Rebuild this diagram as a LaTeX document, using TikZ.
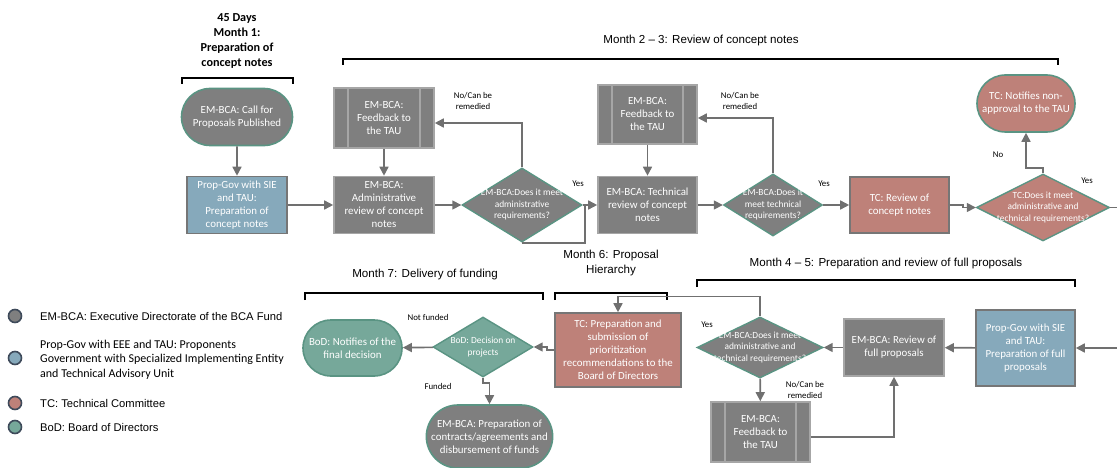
\documentclass[tikz,border=0pt]{standalone}
\usepackage{fontspec}
\setmainfont{Carlito}
\newfontfamily\ttlfont{Liberation Sans}
\usetikzlibrary{shapes.geometric,shapes.misc,arrows.meta}

\definecolor{emgray}{HTML}{7F7F7F}
\definecolor{boxline}{HTML}{A6A6A6}
\definecolor{darkline}{HTML}{767676}
\definecolor{tealline}{HTML}{5A9483}
\definecolor{propblue}{HTML}{86A9BB}
\definecolor{tcred}{HTML}{BE8179}
\definecolor{bodteal}{HTML}{76A89A}
\definecolor{arrowgray}{HTML}{707070}
\definecolor{legline}{HTML}{3E4A5A}

\newcommand{\nodefont}{\fontsize{10.9}{13}\selectfont}
\newcommand{\decfont}{\fontsize{9.4}{11.5}\selectfont}
\newcommand{\lblfont}{\fontsize{8.8}{11}\selectfont}

\begin{document}
\begin{tikzpicture}[x=1pt,y=-1pt]
\tikzstyle{every node}+=[inner sep=0pt, align=center]
\tikzstyle{procbox}=[rectangle, draw=boxline, line width=1.6pt, text=white, font=\nodefont, minimum width=100, minimum height=57]
\tikzstyle{fbbox}=[procbox, fill=emgray, minimum height=60, path picture={
  \draw [boxline, line width=1.6pt] ([xshift=14pt]path picture bounding box.north west) -- ([xshift=14pt]path picture bounding box.south west);
  \draw [boxline, line width=1.6pt] ([xshift=-14pt]path picture bounding box.north east) -- ([xshift=-14pt]path picture bounding box.south east);}]
\tikzstyle{stadium}=[rounded rectangle, draw=tealline, line width=1.6pt, text=white, font=\nodefont, minimum width=111, minimum height=57]
\tikzstyle{dec}=[diamond, draw=tealline, line width=1.4pt, text=white, font=\decfont, inner xsep=-30pt, inner ysep=-15pt]
\tikzstyle{conn}=[draw=arrowgray, line width=1.6pt, -{Triangle[length=9pt,width=9pt]}]
\tikzstyle{plain}=[draw=arrowgray, line width=1.6pt]
\tikzstyle{lbl}=[font=\lblfont, text=black]
\tikzstyle{ttl}=[font=\ttlfont\fontsize{11.6}{16}\selectfont, text=black]
\tikzstyle{brk}=[black, line width=1.8pt]
\tikzstyle{legdot}=[circle, draw=legline, line width=1.6pt, minimum size=13]
\tikzstyle{legtxt}=[anchor=west, align=left, font=\ttlfont\fontsize{11.2}{14.5}\selectfont, text=black]

\useasboundingbox (0,0) rectangle (1117,468);

\node [ttl, font=\bfseries\fontsize{12.2}{15}\selectfont] (t1) at (237,41.5) {45 Days\\Month 1:\\Preparation of\\concept notes};
\node [ttl] (t23) at (701,41) {Month 2 – 3: Review of concept notes};
\node [ttl] (t45) at (886,263) {Month 4 – 5: Preparation and review of full proposals};
\node [ttl] (t6) at (611,263) {Month 6: Proposal\\Hierarchy};
\node [ttl] (t7) at (425,275) {Month 7: Delivery of funding};

\draw [brk] (182,84) -- (182,78) -- (293,78) -- (293,84);
\draw [brk] (343,65) -- (343,59) -- (1058,59) -- (1058,65);
\draw [brk] (305,300) -- (305,293) -- (543,293) -- (543,300);
\draw [brk] (555,300) -- (555,293) -- (667,293) -- (667,300);
\draw [brk] (697,287) -- (697,280) -- (1075,280) -- (1075,287);

\node [stadium, fill=emgray] (call) at (237,117) {EM-BCA: Call for\\Proposals Published};
\node [procbox, fill=propblue, draw=darkline] (prepcn) at (237,205) {Prop-Gov with SIE\\and TAU:\\Preparation of\\concept notes};
\node [procbox, fill=emgray] (admrev) at (384,205) {EM-BCA:\\Administrative\\review of concept\\notes};
\node [fbbox] (fb1) at (384,118) {EM-BCA:\\Feedback to\\the TAU};
\node [dec, fill=emgray, minimum width=120, minimum height=74] (dadm) at (522,205) {EM-BCA:Does it meet\\administrative\\requirements?};
\node [procbox, fill=emgray, minimum width=99] (techrev) at (647.5,205) {EM-BCA: Technical\\review of concept\\notes};
\node [fbbox, minimum width=99, minimum height=59] (fb2) at (647.5,114.5) {EM-BCA:\\Feedback to\\the TAU};
\node [dec, fill=emgray, minimum width=99, minimum height=62] (dtech) at (773,205) {EM-BCA:Does it\\meet technical\\requirements?};
\node [procbox, fill=tcred, draw=darkline, minimum width=99, minimum height=56] (tcrev) at (899.5,205) {TC: Review of\\concept notes};
\node [dec, fill=tcred, minimum width=133, minimum height=67] (dtc) at (1043,207.5) {TC:Does it meet\\administrative and\\technical requirements?};
\node [stadium, fill=tcred, minimum width=98] (notapp) at (1026,103.5) {TC: Notifies non-\\approval to the TAU};

\node [procbox, fill=propblue, draw=darkline, minimum width=99, minimum height=76] (prepfp) at (1025.5,348) {Prop-Gov with SIE\\and TAU:\\Preparation of full\\proposals};
\node [procbox, fill=emgray] (fprev) at (894,347.5) {EM-BCA: Review of\\full proposals};
\node [dec, fill=emgray, minimum width=126, minimum height=61] (dfull) at (760,347.5) {EM-BCA:Does it meet\\administrative and\\technical requirements?};
\node [fbbox, minimum width=99] (fb3) at (760.5,432) {EM-BCA:\\Feedback to\\the TAU};
\node [procbox, fill=tcred, draw=darkline, minimum width=126, minimum height=74] (tcprep) at (618,350) {TC: Preparation and\\submission of\\prioritization\\recommendations to the\\Board of Directors};
\node [dec, fill=bodteal, minimum width=100, minimum height=60] (dbod) at (483,347) {BoD: Decision on\\projects};
\node [stadium, fill=bodteal, minimum width=99, minimum height=56] (bodnot) at (352.5,348) {BoD: Notifies of the\\final decision};
\node [stadium, fill=emgray, minimum width=125, minimum height=63] (contr) at (489.5,436.5) {EM-BCA: Preparation of\\contracts/agreements and\\disbursement of funds};

\coordinate (outr) at (1117,207.5);
\coordinate (inr) at (1117,348);

\draw [conn] (call) -- (prepcn);
\draw [conn] (prepcn) -- (admrev);
\draw [conn] (fb1) -- (admrev);
\draw [conn] (admrev) -- (dadm);
\draw [conn] (dadm.north) |- ([yshift=-5pt]fb1.east);
\draw [plain] (dadm.south) -| ([xshift=2pt]dadm.east);
\draw [conn] (dadm) -- (techrev);
\draw [conn] (fb2) -- (techrev);
\draw [conn] (techrev) -- (dtech);
\draw [conn] (dtech.north) |- ([yshift=-3.5pt]fb2.east);
\draw [conn] (dtech) -- (tcrev);
\draw [conn] (tcrev.east) -- ++(13,0) |- (dtc.west);
\draw [conn] (dtc.north) -- ++(0,-5) -| (notapp.south);
\draw [plain] (dtc.east) -- (outr);
\draw [conn] (inr) -- (prepfp);
\draw [conn] (prepfp) -- (fprev);
\draw [conn] (fprev) -- (dfull);
\draw [conn] (dfull) -- (fb3);
\draw [conn] ([yshift=-5pt]fb3.east) -| (fprev.south);
\draw [conn] (dfull.north) -- ++(0,-20) -| (tcprep.north);
\draw [conn] (tcprep.west) -- ++(-7,0) |- (dbod.east);
\draw [conn] (dbod) -- (bodnot);
\draw [conn] (dbod.south) -- ++(0,5) -| (contr.north);

\node [lbl] (l1) at (473,101) {No/Can be\\remedied};
\node [lbl] (l2) at (578,184) {Yes};
\node [lbl] (l3) at (740,101) {No/Can be\\remedied};
\node [lbl] (l4) at (824,184) {Yes};
\node [lbl] (l5) at (998,155) {No};
\node [lbl] (l6) at (1087,181) {Yes};
\node [lbl] (l7) at (805,390) {No/Can be\\remedied};
\node [lbl] (l8) at (707,325) {Yes};
\node [lbl] (l9) at (428,317) {Not funded};
\node [lbl] (l10) at (438,386) {Funded};

\node [legdot, fill=emgray] (lg1) at (15,316) {};
\node [legdot, fill=propblue] (lg2) at (15,358) {};
\node [legdot, fill=tcred] (lg3) at (15,403) {};
\node [legdot, fill=bodteal] (lg4) at (15,427) {};
\node [legtxt] (lt1) at (40,316) {EM-BCA: Executive Directorate of the BCA Fund};
\node [legtxt, font=\fontsize{12}{14.5}\selectfont] (lt2) at (40,359.5) {Prop-Gov with EEE and TAU: Proponents\\Government with Specialized Implementing Entity\\and Technical Advisory Unit};
\node [legtxt] (lt3) at (40,403) {TC: Technical Committee};
\node [legtxt] (lt4) at (40,427) {BoD: Board of Directors};
\end{tikzpicture}
\end{document}
